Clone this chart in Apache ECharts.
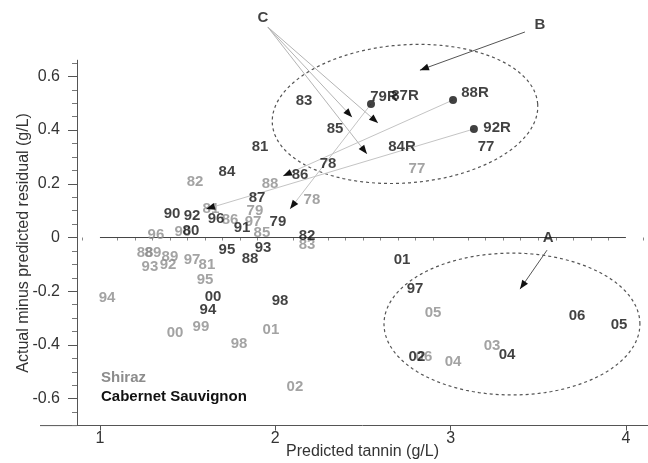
<!DOCTYPE html>
<html><head><meta charset="utf-8">
<script src="https://cdn.jsdelivr.net/npm/echarts@6/dist/echarts.min.js"></script>
<style>html,body{margin:0;padding:0;background:#fff}#c{width:648px;height:463px}</style>
</head><body><div id="c"></div>
<script>
// ---- axis ticks ----
const xTicks = [1, 2, 3, 4];
const yTicks = [-0.6, -0.4, -0.2, 0, 0.2, 0.4, 0.6];

// ---- Shiraz (grey labels) ----
const shirazLabels = ['82','88','78','79','81','86','97','85','83','96','90','88','89','93','92','89','97','81','95','94','00','99','01','98','02','05','06','04','03','77'];
const shirazX = [1.542,1.970,2.209,1.884,1.633,1.742,1.873,1.924,2.181,1.319,1.473,1.257,1.302,1.285,1.388,1.399,1.525,1.610,1.599,1.040,1.428,1.576,1.975,1.793,2.112,2.900,2.848,3.014,3.236,2.808];
const shirazY = [0.207,0.199,0.140,0.099,0.106,0.065,0.058,0.017,-0.028,0.009,0.020,-0.058,-0.058,-0.110,-0.102,-0.073,-0.084,-0.102,-0.158,-0.225,-0.355,-0.333,-0.344,-0.396,-0.556,-0.281,-0.445,-0.463,-0.404,0.255];

// ---- Cabernet Sauvignon (black labels) ----
const cabLabels = ['81','84','86','78','87','79','91','96','82','80','90','92','95','93','88','00','94','98','01','97','06','05','02','04','83','85','84R','77','79R','87R','88R','92R'];
const cabX = [1.913,1.724,2.141,2.301,1.896,2.015,1.810,1.662,2.181,1.519,1.411,1.525,1.724,1.930,1.856,1.645,1.616,2.027,2.723,2.797,3.721,3.961,2.808,3.322,2.164,2.341,2.723,3.202,2.620,2.740,3.139,3.265];
const cabY = [0.337,0.244,0.233,0.274,0.147,0.058,0.035,0.069,0.006,0.024,0.087,0.080,-0.047,-0.039,-0.080,-0.221,-0.270,-0.236,-0.084,-0.192,-0.292,-0.326,-0.445,-0.437,0.508,0.404,0.337,0.337,0.523,0.527,0.538,0.408];

// ---- marked points (filled dots) ----
const dotX = [2.546, 3.014, 3.133];
const dotY = [0.497, 0.512, 0.404];

// ---- annotation letters ----
const letterText = ['A', 'B', 'C'];
const letterX = [3.556, 3.510, 1.930];
const letterY = [-0.002, 0.791, 0.817];

// ---- annotation segments [x1, y1, x2, y2] in data units ----
const cArrows = [[1.958,0.783,2.438,0.448],[1.958,0.783,2.586,0.426],[1.958,0.783,2.523,0.311]];
const pointerArrows = [[3.424,0.765,2.825,0.623],[3.550,-0.047,3.396,-0.192]];
const connectorArrows = [[2.546,0.497,2.084,0.106],[3.014,0.512,2.044,0.229],[3.133,0.404,1.605,0.106]];
const zeroLine = [[1,0,4,0]];
// ellipses [cx, cy, rx, ry, tiltDeg]
const ellipses = [[2.740,0.460,0.759,0.257,4.3],[3.350,-0.322,0.730,0.264,0]];

const FONT = 'Liberation Sans, Arial, sans-serif';
const GREY = '#8c8c8c', BLACK = '#111', AXIS = '#555';

const xMinor = [], yMinor = [];
for (let i = 9; i <= 41; i++) if (i % 10) xMinor.push(i / 10);
for (let i = -14; i <= 13; i++) if (i % 4) yMinor.push(Math.round(i * 5) / 100);

function arrowSeries(data, lineColor, headColor, head, z) {
  return {
    type: 'custom', coordinateSystem: 'cartesian2d', clip: false, silent: true, z: z,
    data: data, encode: { x: [0, 2], y: [1, 3] },
    renderItem: function (params, api) {
      const p1 = api.coord([api.value(0), api.value(1)]);
      const p2 = api.coord([api.value(2), api.value(3)]);
      const children = [{ type: 'line', shape: { x1: p1[0], y1: p1[1], x2: p2[0], y2: p2[1] }, style: { stroke: lineColor, lineWidth: 1 } }];
      if (head) {
        const dx = p2[0] - p1[0], dy = p2[1] - p1[1], L = Math.hypot(dx, dy);
        const ux = dx / L, uy = dy / L, len = 9, w = 3.5;
        const bx = p2[0] - ux * len, by = p2[1] - uy * len;
        children.push({ type: 'polygon', shape: { points: [[p2[0], p2[1]], [bx - uy * w, by + ux * w], [bx + uy * w, by - ux * w]] }, style: { fill: headColor } });
      }
      return { type: 'group', children: children };
    }
  };
}

const ellipseSeries = {
  type: 'custom', coordinateSystem: 'cartesian2d', clip: false, silent: true, z: 2,
  data: ellipses,
  renderItem: function (params, api) {
    const c = api.coord([api.value(0), api.value(1)]);
    const a = api.size([api.value(2), 0])[0];
    const b = api.size([0, api.value(3)])[1];
    const phi = api.value(4) * Math.PI / 180;
    const pts = [];
    for (let k = 0; k < 120; k++) {
      const t = k / 120 * Math.PI * 2;
      const ex = a * Math.cos(t), ey = b * Math.sin(t);
      const rx = ex * Math.cos(phi) - ey * Math.sin(phi);
      const ry = ex * Math.sin(phi) + ey * Math.cos(phi);
      pts.push([c[0] + rx, c[1] - ry]);
    }
    return { type: 'polygon', shape: { points: pts }, style: { fill: 'none', stroke: '#555', lineWidth: 1.2, lineDash: [3, 3] } };
  }
};

function labelSeries(name, labels, xs, ys, color, z) {
  return {
    type: 'scatter', name: name, z: z, clip: false, silent: true,
    symbolSize: 1, itemStyle: { color: 'rgba(0,0,0,0)' },
    data: xs.map((x, i) => ({ value: [x, ys[i]], name: labels[i] })),
    label: { show: true, position: 'inside', formatter: '{b}', color: color, fontSize: 15, fontWeight: 'bold', fontFamily: FONT },
    emphasis: { disabled: true }
  };
}

const chart = echarts.init(document.getElementById('c'));
const option = {
  animation: false,
  backgroundColor: '#fff',
  grid: { left: 77, right: 0, top: 60.2, bottom: 37.4, outerBoundsMode: 'none', containLabel: false },
  legend: {
    orient: 'vertical', left: 96, top: 370, padding: 0, itemGap: 4, itemWidth: 0, itemHeight: 14,
    icon: 'none', selectedMode: false,
    textStyle: { fontSize: 15, fontWeight: 'bold', fontFamily: FONT },
    data: [{ name: 'Shiraz', textStyle: { color: GREY } }, { name: 'Cabernet Sauvignon', textStyle: { color: BLACK } }]
  },
  xAxis: [
    {
      type: 'value', min: 0.869, max: 4.126,
      name: 'Predicted tannin (g/L)', nameLocation: 'middle', nameGap: 18, nameMoveOverlap: false,
      nameTextStyle: { fontSize: 16, color: '#333', fontFamily: FONT },
      axisLine: { show: true, onZero: false, lineStyle: { color: AXIS } },
      axisTick: { show: true, customValues: xTicks, length: 5, lineStyle: { color: AXIS } },
      axisLabel: { customValues: xTicks, margin: 5, fontSize: 16, color: '#333', fontFamily: FONT },
      splitLine: { show: false }
    },
    {
      type: 'value', min: 0.869, max: 4.126, position: 'bottom',
      axisLine: { show: false }, axisLabel: { show: false }, splitLine: { show: false },
      axisTick: { show: true, customValues: xMinor, length: 3, lineStyle: { color: '#888' } }
    }
  ],
  yAxis: [
    {
      type: 'value', min: -0.7, max: 0.66,
      name: 'Actual minus predicted residual (g/L)', nameLocation: 'middle', nameGap: 45, nameMoveOverlap: false,
      nameTextStyle: { fontSize: 16, color: '#333', fontFamily: FONT },
      axisLine: { show: true, onZero: false, lineStyle: { color: AXIS } },
      axisTick: { show: true, customValues: yTicks, length: 9, lineStyle: { color: AXIS } },
      axisLabel: { customValues: yTicks, margin: 17, fontSize: 16, color: '#333', fontFamily: FONT,
        formatter: v => (Math.abs(v) < 1e-9 ? '0' : String(v)) },
      splitLine: { show: false }
    },
    {
      type: 'value', min: -0.7, max: 0.66, position: 'left',
      axisLine: { show: false }, axisLabel: { show: false }, splitLine: { show: false },
      axisTick: { show: true, customValues: yMinor, length: 5, lineStyle: { color: '#777' } }
    }
  ],
  series: [
    ellipseSeries,
    arrowSeries(zeroLine, '#444', '#444', false, 2),
    arrowSeries(cArrows, '#b4b4b4', '#111', true, 4),
    arrowSeries(connectorArrows, '#c4c4c4', '#111', true, 4),
    arrowSeries(pointerArrows, '#555', '#111', true, 4),
    labelSeries('Shiraz', shirazLabels, shirazX, shirazY, GREY, 3),
    labelSeries('Cabernet Sauvignon', cabLabels, cabX, cabY, BLACK, 6),
    labelSeries('letters', letterText, letterX, letterY, BLACK, 6),
    {
      type: 'scatter', name: 'marked', z: 6, silent: true, symbol: 'circle', symbolSize: 8,
      itemStyle: { color: BLACK },
      data: dotX.map((x, i) => [x, dotY[i]])
    }
  ]
};
chart.setOption(option);

// extend the x-axis baseline left of the y axis, as in the original figure
const pA = chart.convertToPixel({ gridIndex: 0 }, [0.658, -0.7]);
const pB = chart.convertToPixel({ gridIndex: 0 }, [0.869, -0.7]);
chart.setOption({ graphic: [{ type: 'line', shape: { x1: pA[0], y1: pA[1], x2: pB[0], y2: pB[1] }, style: { stroke: AXIS, lineWidth: 1 }, silent: true }] });
</script>
</body></html>
